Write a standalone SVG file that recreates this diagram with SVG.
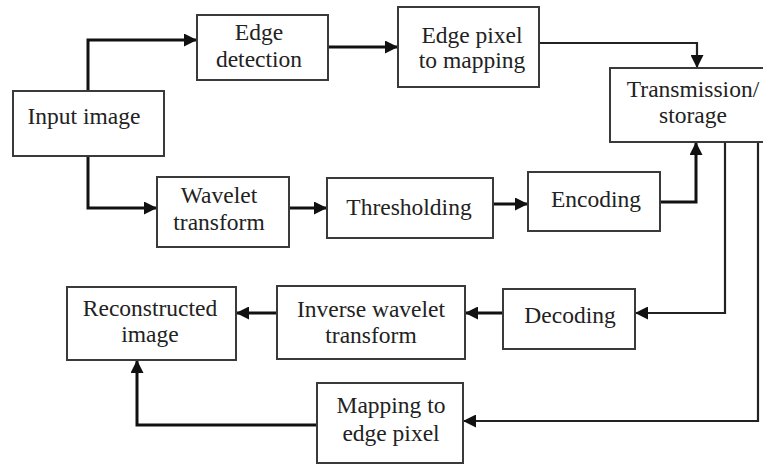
<svg xmlns="http://www.w3.org/2000/svg" width="763" height="466" viewBox="0 0 763 466">
<style>
.box{fill:#fff;stroke:#3a3a3a;stroke-width:2}
.t{font-family:'Liberation Serif','DejaVu Serif',serif;font-size:23.5px;fill:#222;text-anchor:middle}
.c{fill:none;stroke:#111;stroke-width:3}
.c2{fill:none;stroke:#222;stroke-width:2.2}
</style>
<defs>
<marker id="ah" viewBox="0 0 12 12" refX="12" refY="6" markerWidth="13" markerHeight="13" markerUnits="userSpaceOnUse" orient="auto">
<path d="M0,0 L12,6 L0,12 z" fill="#111"/>
</marker>
</defs>
<rect width="763" height="466" fill="#fff"/>
<g id="connectors">
<path class="c" d="M88,91 V40 H197" marker-end="url(#ah)"/>
<path class="c" d="M88,156 V208 H157" marker-end="url(#ah)"/>
<path class="c" d="M328,47 H398" marker-end="url(#ah)"/>
<path class="c2" d="M539,43 H697 V68" marker-end="url(#ah)"/>
<path class="c" d="M289,208 H327" marker-end="url(#ah)"/>
<path class="c" d="M493,204 H528" marker-end="url(#ah)"/>
<path class="c" d="M660,202 H696 V142" marker-end="url(#ah)"/>
<path class="c2" d="M725,142 V313 H635" marker-end="url(#ah)"/>
<path class="c" d="M503,313 H465" marker-end="url(#ah)"/>
<path class="c" d="M277,313 H236" marker-end="url(#ah)"/>
<path class="c2" d="M758,142 V421 H463" marker-end="url(#ah)"/>
<path class="c" d="M317,425 H137 V360" marker-end="url(#ah)"/>
</g>
<g font-family="Liberation Serif, DejaVu Serif, serif">
<g id="input"><rect class="box" x="13" y="91" width="151" height="65"/><text class="t" x="84" y="124" font-family="Liberation Serif">Input image</text></g>
<g id="edge-detection"><rect class="box" x="197" y="15" width="131" height="65"/><text class="t" x="259" y="40">Edge</text><text class="t" x="259" y="67">detection</text></g>
<g id="edge-pixel"><rect class="box" x="398" y="7" width="141" height="80"/><text class="t" x="472" y="43">Edge pixel</text><text class="t" x="472" y="68">to mapping</text></g>
<g id="transmission"><rect class="box" x="610" y="68" width="165" height="74"/><text class="t" x="693" y="97">Transmission/</text><text class="t" x="693" y="123">storage</text></g>
<g id="wavelet"><rect class="box" x="157" y="177" width="132" height="70"/><text class="t" x="219" y="203">Wavelet</text><text class="t" x="219" y="230">transform</text></g>
<g id="thresholding"><rect class="box" x="327" y="178" width="166" height="60"/><text class="t" x="409" y="215">Thresholding</text></g>
<g id="encoding"><rect class="box" x="528" y="172" width="132" height="59"/><text class="t" x="596" y="207">Encoding</text></g>
<g id="decoding"><rect class="box" x="503" y="289" width="132" height="60"/><text class="t" x="570" y="323">Decoding</text></g>
<g id="inverse"><rect class="box" x="277" y="286" width="188" height="73"/><text class="t" x="371" y="317">Inverse wavelet</text><text class="t" x="371" y="343">transform</text></g>
<g id="reconstructed"><rect class="box" x="67" y="287" width="169" height="73"/><text class="t" x="150" y="316">Reconstructed</text><text class="t" x="150" y="342">image</text></g>
<g id="mapping"><rect class="box" x="317" y="383" width="146" height="80"/><text class="t" x="391" y="413">Mapping to</text><text class="t" x="391" y="441">edge pixel</text></g>
</g>
</svg>
